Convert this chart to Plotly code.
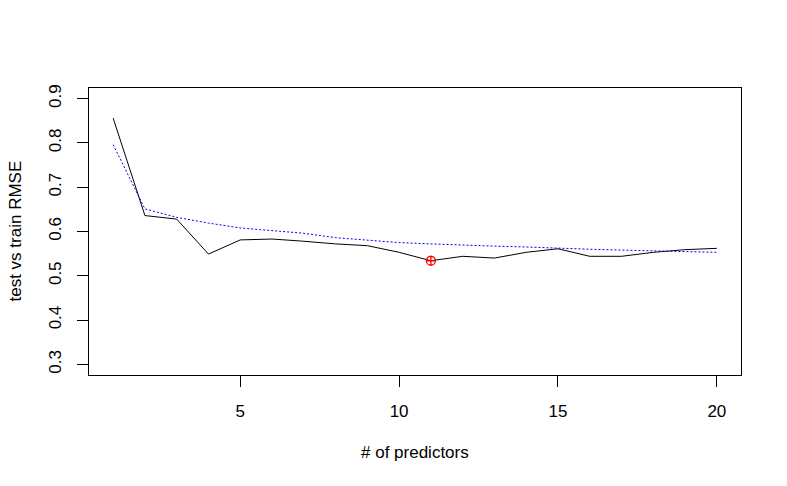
import plotly.graph_objects as go

# number of predictors in the model
n_pred = list(range(1, 21))

# test RMSE (black line) and train RMSE (blue dotted line)
test_rmse = [0.856, 0.636, 0.628, 0.549, 0.581, 0.583, 0.578, 0.572, 0.568, 0.553,
             0.534, 0.544, 0.540, 0.553, 0.561, 0.544, 0.544, 0.553, 0.559, 0.562]
train_rmse = [0.796, 0.651, 0.632, 0.619, 0.608, 0.602, 0.596, 0.586, 0.580, 0.575,
              0.572, 0.569, 0.567, 0.565, 0.562, 0.560, 0.558, 0.556, 0.555, 0.553]

# best model (lowest test error)
best_i = test_rmse.index(min(test_rmse))

x_ticks = [5, 10, 15, 20]
y_ticks = [0.3, 0.4, 0.5, 0.6, 0.7, 0.8, 0.9]

font = dict(family="Liberation Sans, Arial, sans-serif", size=17, color="black")

fig = go.Figure()
fig.add_trace(go.Scatter(x=n_pred, y=test_rmse, mode="lines",
                         line=dict(color="black", width=1)))
fig.add_trace(go.Scatter(x=n_pred, y=train_rmse, mode="lines",
                         line=dict(color="blue", width=1, dash="2px,2px")))
fig.add_trace(go.Scatter(x=[n_pred[best_i]], y=[test_rmse[best_i]], mode="markers",
                         marker=dict(symbol="circle-cross-open", size=9, color="red",
                                     line=dict(color="red", width=1.3))))

axis_common = dict(showgrid=False, zeroline=False, showline=True, mirror=True,
                   linecolor="black", linewidth=1, ticks="outside", ticklen=11,
                   tickwidth=1, tickcolor="black", tickfont=font)

fig.update_xaxes(range=[0.24, 20.76], tickvals=x_ticks, ticklabelstandoff=10, **axis_common)
fig.update_yaxes(range=[0.276, 0.924], tickvals=y_ticks, tickangle=-90,
                 ticklabelstandoff=9, **axis_common)

fig.update_layout(
    width=787, height=486,
    margin=dict(l=89, r=46, t=88, b=111),
    paper_bgcolor="white", plot_bgcolor="white",
    showlegend=False,
    hovermode=False,
    font=font,
    annotations=[
        dict(text="# of predictors", xref="paper", yref="paper", x=0.5, y=0,
             yshift=-77, showarrow=False, font=font, xanchor="center", yanchor="middle"),
        dict(text="test vs train RMSE", xref="paper", yref="paper", x=0, y=0.5,
             xshift=-74, showarrow=False, font=font, textangle=-90,
             xanchor="center", yanchor="middle"),
    ],
)

# drop the default body margin so the figure fills the window exactly
fig.write_html("out.html", config={"displayModeBar": False},
               post_script="document.body.style.margin='0';")
